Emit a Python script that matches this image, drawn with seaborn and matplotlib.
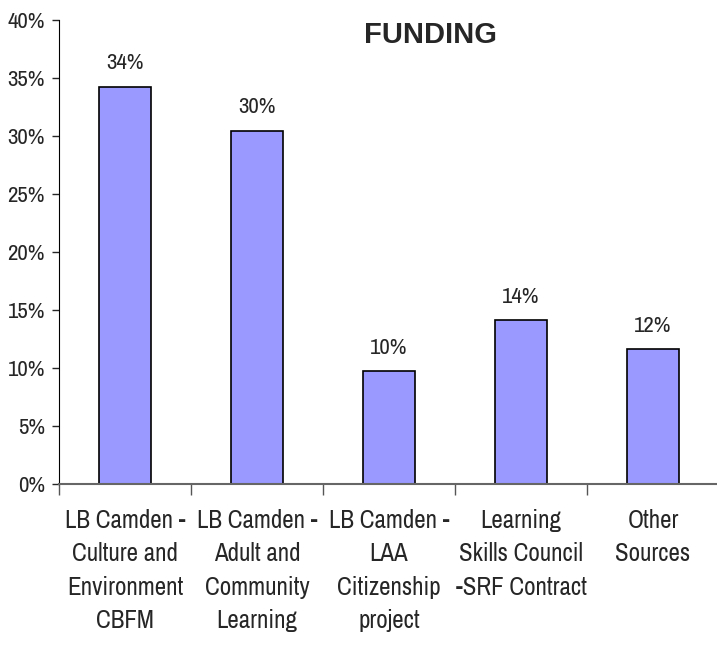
import matplotlib
matplotlib.use("Agg")
import matplotlib.pyplot as plt
import seaborn as sns
import numpy as np
import pandas as pd
from matplotlib.ticker import FixedLocator, PercentFormatter

# --- data ---
categories = [
    "LB Camden -\nCulture and\nEnvironment\nCBFM",
    "LB Camden -\nAdult and\nCommunity\nLearning",
    "LB Camden -\nLAA\nCitizenship\nproject",
    "Learning\nSkills Council\n-SRF Contract",
    "Other\nSources",
]
shares = [34.2, 30.4, 9.7, 14.1, 11.6]
share_labels = ["34%", "30%", "10%", "14%", "12%"]
y_ticks = [0, 5, 10, 15, 20, 25, 30, 35, 40]

df = pd.DataFrame({"source": categories, "share": shares})

sns.set_style("white")
plt.rcParams["font.family"] = ["Archivo Narrow", "Liberation Sans", "DejaVu Sans"]

fig = plt.figure(figsize=(7.17, 6.45), dpi=100)
ax = fig.add_axes([59 / 717, 1 - 484 / 645, 660 / 717, 464 / 645])

sns.barplot(data=df, x="source", y="share", color="#9999FF", edgecolor="black",
            linewidth=1.2, width=0.4, saturation=1, ax=ax)

# value labels above bars
for i, (v, lab) in enumerate(zip(shares, share_labels)):
    ax.text(i, v + 1.2, lab, ha="center", va="bottom", fontsize=16.5)

ax.set_xlim(-0.5, len(categories) - 0.5)
ax.set_ylim(0, 40)
ax.set_yticks(y_ticks)
ax.yaxis.set_major_formatter(PercentFormatter(decimals=0))
ax.tick_params(axis="y", direction="out", length=5, width=1, labelsize=16.5, pad=5, left=True)

ax.set_xticks(range(len(categories)))
ax.set_xticklabels(categories, fontsize=18, linespacing=1.55)
ax.tick_params(axis="x", which="major", length=0, pad=18)
ax.xaxis.set_minor_locator(FixedLocator(np.arange(-0.5, len(categories), 1.0)))
ax.tick_params(axis="x", which="minor", direction="out", length=8, width=1, color="#555555", bottom=True)

ax.set_xlabel("")
ax.set_ylabel("")
for side in ["top", "right"]:
    ax.spines[side].set_visible(False)
ax.spines["left"].set_color("black")
ax.spines["bottom"].set_color("#666666")
ax.spines["bottom"].set_linewidth(1.5)

fig.text(430 / 717, 1 - 21 / 645, "FUNDING", ha="center", va="top",
         fontsize=21, fontweight="bold", family="Liberation Sans")

fig.savefig("out.png", dpi=100)
